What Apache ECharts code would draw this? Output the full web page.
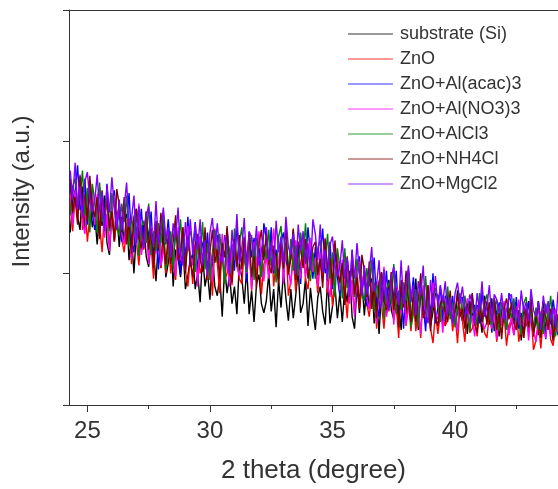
<!DOCTYPE html>
<html>
<head>
<meta charset="utf-8">
<script src="https://cdn.jsdelivr.net/npm/echarts@6/dist/echarts.min.js"></script>
<style>html,body{margin:0;padding:0;background:#fff}#c{width:558px;height:489px}</style>
</head>
<body>
<div id="c"></div>
<script>
var X = [24.3,24.4,24.5,24.6,24.7,24.8,24.9,25.0,25.1,25.2,
25.3,25.4,25.5,25.6,25.7,25.8,25.9,26.0,26.1,26.2,
26.3,26.4,26.5,26.6,26.7,26.8,26.9,27.0,27.1,27.2,
27.3,27.4,27.5,27.6,27.7,27.8,27.9,28.0,28.1,28.2,
28.3,28.4,28.5,28.6,28.7,28.8,28.9,29.0,29.1,29.2,
29.3,29.4,29.5,29.6,29.7,29.8,29.9,30.0,30.1,30.2,
30.3,30.4,30.5,30.6,30.7,30.8,30.9,31.0,31.1,31.2,
31.3,31.4,31.5,31.6,31.7,31.8,31.9,32.0,32.1,32.2,
32.3,32.4,32.5,32.6,32.7,32.8,32.9,33.0,33.1,33.2,
33.3,33.4,33.5,33.6,33.7,33.8,33.9,34.0,34.1,34.2,
34.3,34.4,34.5,34.6,34.7,34.8,34.9,35.0,35.1,35.2,
35.3,35.4,35.5,35.6,35.7,35.8,35.9,36.0,36.1,36.2,
36.3,36.4,36.5,36.6,36.7,36.8,36.9,37.0,37.1,37.2,
37.3,37.4,37.5,37.6,37.7,37.8,37.9,38.0,38.1,38.2,
38.3,38.4,38.5,38.6,38.7,38.8,38.9,39.0,39.1,39.2,
39.3,39.4,39.5,39.6,39.7,39.8,39.9,40.0,40.1,40.2,
40.3,40.4,40.5,40.6,40.7,40.8,40.9,41.0,41.1,41.2,
41.3,41.4,41.5,41.6,41.7,41.8,41.9,42.0,42.1,42.2,
42.3,42.4,42.5,42.6,42.7,42.8,42.9,43.0,43.1,43.2,
43.3,43.4,43.5,43.6,43.7,43.8,43.9,44.0,44.1,44.2];

var NAMES = ['substrate (Si)','ZnO','ZnO+Al(acac)3','ZnO+Al(NO3)3','ZnO+AlCl3','ZnO+NH4Cl','ZnO+MgCl2'];
var COLORS = ['#000000','#ff0000','#0000ff','#ff00ff','#008000','#800000','#8000ff'];

var substrate = [131,155,163,143,133,166,133,145,161,135,
145,122,148,136,159,123,114,146,124,147,
120,143,123,145,110,128,100,132,142,118,
137,113,105,125,116,94,126,104,136,97,
108,130,90,118,112,97,119,88,98,111,
114,88,100,78,115,90,101,80,114,90,
83,98,67,104,85,99,77,90,69,108,
97,77,104,69,87,63,92,99,77,70,
79,100,71,88,59,95,74,102,81,64,
88,66,83,103,70,77,96,60,89,71,
57,82,90,71,61,95,62,75,91,66,
85,63,89,78,102,67,58,91,70,94,
68,92,73,96,62,81,54,87,98,75,
95,72,65,86,78,57,90,69,102,64,
73,96,57,86,81,67,90,60,71,85,
83,65,74,60,86,69,77,63,87,71,
64,75,54,79,66,76,61,71,55,83,
75,61,81,56,68,52,72,77,62,57,
63,78,58,69,49,74,60,79,64,52,
69,53,65,79,56,61,73,48,69,56];

var zno = [154,132,159,142,170,133,152,124,144,160,
135,156,137,116,148,140,120,154,124,141,
152,126,116,134,142,107,138,124,106,130,
118,139,111,121,96,131,138,104,124,100,
125,100,118,95,128,108,135,102,90,113,
92,115,121,100,107,128,95,116,83,121,
108,85,124,95,100,114,91,121,110,96,
92,117,104,125,87,111,99,119,84,107,
113,97,128,90,109,94,116,102,123,83,
94,114,86,121,102,125,95,88,109,115,
106,85,112,94,122,85,104,75,95,111,
85,106,87,66,98,90,70,104,74,91,
102,77,67,85,93,58,89,76,58,83,
71,93,65,76,51,86,93,60,80,56,
81,56,74,51,84,65,91,58,47,70,
54,70,75,60,65,80,56,70,47,74,
64,48,76,55,58,68,52,72,65,55,
51,69,60,74,48,64,55,69,45,61,
64,53,74,48,61,51,65,55,70,42,
49,63,43,67,54,70,50,45,59,63];

var acac = [168,145,162,182,148,154,172,137,165,146,
133,157,165,145,135,168,135,147,163,137,
147,124,150,138,161,125,116,148,126,149,
122,145,125,147,112,131,103,135,145,122,
141,117,109,130,121,99,132,111,143,105,
116,139,99,128,122,108,131,101,112,126,
129,104,117,96,134,110,122,102,137,114,
108,124,93,131,112,127,105,119,98,138,
127,107,135,100,118,95,124,131,110,103,
112,133,105,122,92,128,107,135,114,96,
120,98,115,134,100,106,124,88,116,97,
83,107,115,95,85,118,85,97,113,87,
97,75,101,89,112,76,67,100,78,102,
75,99,79,102,67,86,58,91,101,78,
97,73,65,86,77,56,88,67,100,62,
74,90,62,83,78,68,83,63,70,80,
82,64,73,59,84,68,76,62,86,70,
65,76,55,81,68,78,62,72,57,85,
76,62,82,58,70,54,73,78,64,59,
64,79,59,71,50,75,61,80,66,53];

var no3 = [160,137,163,152,175,139,130,163,141,164,
137,160,140,162,127,145,117,149,159,135,
154,130,122,142,133,111,143,121,153,114,
125,147,107,135,129,115,137,106,116,130,
133,107,119,98,135,110,122,102,136,113,
106,122,90,128,108,123,101,115,94,134,
122,102,130,95,113,90,119,126,105,98,
107,128,100,117,88,124,104,132,111,94,
118,96,114,134,101,108,127,92,121,103,
91,116,125,106,96,130,97,110,127,101,
112,90,116,104,127,91,82,114,92,115,
87,110,90,112,77,95,67,99,109,85,
104,81,73,93,84,62,94,73,105,67,
78,101,61,90,84,70,92,62,72,86,
89,63,75,54,91,67,78,58,93,70,
65,76,55,81,67,77,61,71,56,84,
75,61,81,57,68,52,72,77,63,58,
63,78,58,70,50,75,60,79,65,53,
69,53,66,80,57,62,74,49,70,57,
48,65,71,58,51,75,52,61,73,55];

var alcl3 = [144,166,172,151,158,178,144,165,131,168,
155,131,169,139,143,156,132,161,149,134,
129,153,139,159,120,143,130,149,113,135,
140,123,153,114,132,117,138,123,143,103,
113,132,103,138,119,141,112,105,125,132,
122,101,128,111,139,103,123,95,116,133,
108,130,112,92,125,118,99,134,105,123,
135,110,101,120,129,95,127,114,97,122,
111,133,106,117,93,128,136,103,124,100,
126,102,121,98,131,112,138,105,94,116,
96,119,125,103,110,130,96,116,82,119,
105,81,119,89,93,106,82,111,99,84,
79,104,90,110,71,94,81,101,65,88,
93,77,107,69,87,72,93,79,99,59,
69,88,59,94,75,98,68,61,82,89,
78,63,83,71,90,65,78,59,73,85,
67,83,70,56,78,73,60,85,64,77,
84,67,61,74,80,56,78,69,57,74,
66,81,62,70,53,77,82,59,74,57,
74,57,70,54,77,64,83,60,52,67];

var nh4cl = [172,146,158,137,174,149,160,140,174,150,
143,158,126,163,143,157,134,147,125,164,
152,131,158,122,139,115,143,149,127,119,
127,147,118,134,104,140,119,146,124,107,
130,107,124,144,110,116,135,100,128,110,
97,122,130,111,101,135,103,116,133,108,
118,96,123,112,136,101,93,126,105,129,
103,127,108,131,97,116,89,122,133,110,
130,107,100,121,113,92,125,104,137,99,
111,134,95,124,118,104,126,96,107,120,
124,99,111,89,126,101,112,91,125,101,
93,108,76,113,93,107,84,97,75,114,
102,82,109,73,90,66,94,101,79,72,
80,101,72,89,59,95,74,102,80,63,
86,63,80,100,66,73,91,56,85,67,
60,77,83,70,63,87,63,72,84,67,
73,58,77,69,85,61,55,78,63,80,
61,78,65,81,57,70,50,73,81,65,
78,62,57,72,66,51,73,59,82,55,
63,79,51,72,67,57,73,53,60,69];

var mgcl2 = [178,157,184,149,166,142,170,177,155,147,
155,175,146,162,132,167,146,173,151,133,
156,133,150,169,135,141,159,123,151,132,
119,143,151,131,121,155,122,134,150,125,
135,112,138,127,150,114,106,139,117,141,
114,138,118,141,106,125,98,131,142,119,
138,115,108,129,121,100,133,112,145,107,
119,142,103,132,127,113,136,106,117,131,
135,110,123,102,140,116,128,108,143,120,
114,130,99,137,117,132,109,123,102,141,
130,110,137,101,118,94,122,128,106,98,
105,125,96,112,82,117,96,123,101,83,
106,84,101,120,86,92,110,75,103,85,
72,97,105,86,76,110,77,90,106,81,
91,68,94,83,106,71,62,95,74,98,
74,91,78,94,69,82,62,85,93,77,
90,74,69,84,77,62,85,71,94,67,
75,91,63,84,80,70,85,65,72,82,
84,66,75,61,87,71,78,64,88,72,
67,78,57,83,69,79,64,74,59,86];

var SERIES_VALUES = [substrate, zno, acac, no3, alcl3, nh4cl, mgcl2];
var XTICKS = [25,30,35,40];
var XMINOR = [27.5,32.5,37.5,42.5];

var FONT = 'Liberation Sans, Arial, sans-serif';
var TXT = '#333333';
var AX = '#333333';

var chart = echarts.init(document.getElementById('c'), null, {renderer:'canvas'});
var series = SERIES_VALUES.map(function(vals, i){
  return {
    name: NAMES[i], type: 'line', xAxisIndex: 0, yAxisIndex: 0,
    data: vals.map(function(v, j){ return [X[j], v]; }),
    symbol: 'none', lineStyle: {color: COLORS[i], width: 1.4}, itemStyle: {color: COLORS[i]},
    silent: true
  };
});

chart.setOption({
  animation: false,
  backgroundColor: '#fff',
  grid: {left: 69, right: 0, top: 10, bottom: 81, containLabel: false},
  legend: {
    orient: 'vertical', left: 343, top: 19, itemWidth: 45, itemHeight: 14, itemGap: 5,
    icon: 'path://M0,7L45,7L45,8L0,8Z',
    itemStyle: {opacity: 0.8},
    textStyle: {fontFamily: FONT, fontSize: 18, lineHeight: 20, color: TXT, padding: [0,0,0,2]},
    data: NAMES
  },
  xAxis: [
    {type: 'value', position: 'bottom', min: 24.25, max: 44.2,
     name: '2 theta (degree)', nameLocation: 'middle', nameGap: 53,
     nameTextStyle: {fontFamily: FONT, fontSize: 26, color: TXT},
     axisLine: {show: true, onZero: false, lineStyle: {color: AX, width: 1}},
     axisTick: {show: true, inside: false, length: 7, customValues: XTICKS, lineStyle: {color: AX}},
     axisLabel: {show: true, margin: 14, customValues: XTICKS, fontFamily: FONT, fontSize: 24, color: TXT},
     splitLine: {show: false}},
    {type: 'value', position: 'bottom', min: 24.25, max: 44.2,
     axisLine: {show: false},
     axisTick: {show: true, inside: false, length: 4, customValues: XMINOR, lineStyle: {color: AX}},
     axisLabel: {show: false}, splitLine: {show: false}},
    {type: 'value', position: 'top', min: 24.25, max: 44.2,
     axisLine: {show: true, onZero: false, lineStyle: {color: AX, width: 1}},
     axisTick: {show: false}, axisLabel: {show: false}, splitLine: {show: false}}
  ],
  yAxis: [{
    type: 'value', min: 0, max: 300, interval: 100,
    name: 'Intensity (a.u.)', nameLocation: 'middle', nameGap: 35, nameRotate: 90,
    nameTextStyle: {fontFamily: FONT, fontSize: 24, color: TXT, padding: [0,0,0,32]},
    axisLine: {show: true, onZero: false, lineStyle: {color: AX, width: 1}},
    axisTick: {show: true, inside: false, length: 6, lineStyle: {color: AX}},
    axisLabel: {show: false}, splitLine: {show: false}
  }],
  series: series
});
</script>
</body>
</html>
